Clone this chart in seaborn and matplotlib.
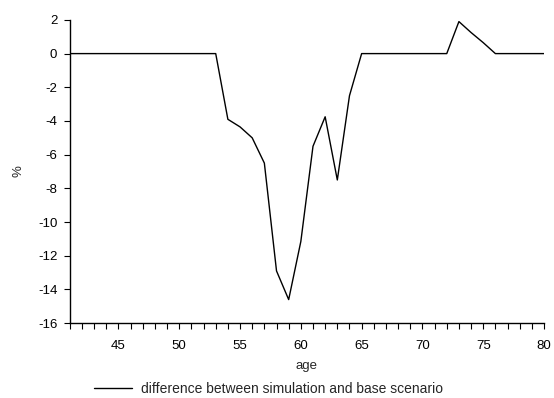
import numpy as np
import pandas as pd
import matplotlib
matplotlib.use("Agg")
import matplotlib.pyplot as plt
import seaborn as sns
from matplotlib.ticker import MultipleLocator, FixedLocator

ages = list(range(41, 81))
diff = [0, 0, 0, 0, 0, 0, 0, 0, 0, 0, 0, 0,          # 41-52
        0, -3.9, -4.35, -5.0, -6.5, -12.9, -14.6, -11.15,  # 53-60
        -5.5, -3.75, -7.5, -2.5, 0,                    # 61-65
        0, 0, 0, 0, 0, 0, 0,                           # 66-72
        1.9, 1.25, 0.65, 0, 0, 0, 0, 0]                # 73-80

series_label = "difference between simulation and base scenario"
x_ticklabels = [45, 50, 55, 60, 65, 70, 75, 80]
y_ticks = [2, 0, -2, -4, -6, -8, -10, -12, -14, -16]

df = pd.DataFrame({"age": ages, "value": diff, "series": series_label})

sns.set_theme(style="white")
plt.rcParams['font.family'] = ['Liberation Sans', 'DejaVu Sans']

fs = 9.5
fig = plt.figure(figsize=(5.54, 3.98), dpi=100)
ax = fig.add_axes([0.126, 0.188, 0.856, 0.762])

sns.lineplot(data=df, x="age", y="value", hue="series", palette=["black"],
             linewidth=1.0, ax=ax, legend=True)

ax.set_xlim(41, 80)
ax.set_ylim(-16, 2)
ax.xaxis.set_major_locator(FixedLocator(x_ticklabels))
ax.xaxis.set_minor_locator(MultipleLocator(1))
ax.set_yticks(y_ticks)
ax.set_yticklabels([str(v) for v in y_ticks])

for s in ["top", "right"]:
    ax.spines[s].set_visible(False)
for s in ["left", "bottom"]:
    ax.spines[s].set_color("black")
    ax.spines[s].set_linewidth(1.0)

ax.tick_params(axis="both", which="major", direction="out", length=4, width=0.8,
               colors="black", labelsize=fs, pad=5)
ax.tick_params(axis="x", which="major", pad=8)
ax.tick_params(axis="x", which="minor", direction="out", length=4, width=0.8,
               colors="black", bottom=True)
ax.tick_params(axis="y", which="both", left=True)
ax.tick_params(axis="x", which="both", bottom=True)

ax.set_xlabel("age", fontsize=fs, labelpad=6)
ax.set_ylabel("%", fontsize=fs, labelpad=10)
ax.grid(False)

h, l = ax.get_legend_handles_labels()
ax.legend_.remove()
fig.legend(h, l, loc="center", bbox_to_anchor=(0.484, 0.022), frameon=False,
           fontsize=10, handlelength=2.75, handletextpad=0.65,
           borderpad=0.1, borderaxespad=0.0)

fig.savefig("out.png", dpi=100)
